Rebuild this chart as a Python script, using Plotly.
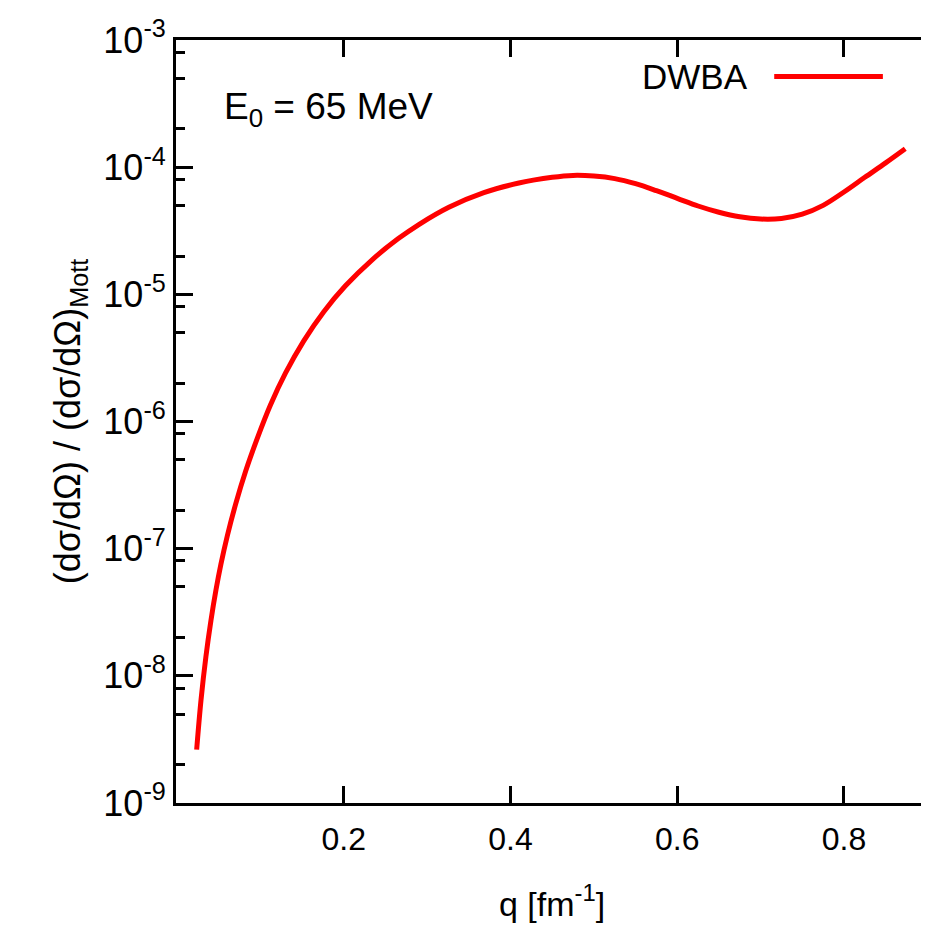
import plotly.graph_objects as go

# DWBA cross section ratio
q_vals = [0.0235, 0.0287, 0.0346, 0.0406, 0.0466, 0.0525, 0.0605, 0.0704, 0.0824,
          0.0963, 0.112, 0.130, 0.152, 0.176, 0.202, 0.234, 0.265, 0.290, 0.326,
          0.368, 0.410, 0.450, 0.475, 0.500, 0.525, 0.550, 0.575, 0.600, 0.625,
          0.650, 0.675, 0.700, 0.725, 0.750, 0.775, 0.800, 0.825, 0.850, 0.8735]
dwba_vals = [2.63e-9, 6.46e-9, 1.42e-8, 2.72e-8, 4.72e-8, 7.5e-8, 1.28e-7, 2.26e-7, 4.1e-7,
             7.41e-7, 1.35e-6, 2.4e-6, 4.31e-6, 7.31e-6, 1.167e-5, 1.87e-5, 2.73e-5, 3.54e-5, 4.84e-5,
             6.31e-5, 7.50e-5, 8.32e-5, 8.61e-5, 8.51e-5, 8.13e-5, 7.41e-5, 6.53e-5, 5.69e-5, 4.95e-5,
             4.42e-5, 4.07e-5, 3.91e-5, 3.95e-5, 4.27e-5, 5.01e-5, 6.38e-5, 8.32e-5, 1.081e-4, 1.396e-4]

x_ticks = [0.2, 0.4, 0.6, 0.8]
y_ticks = [1e-9, 1e-8, 1e-7, 1e-6, 1e-5, 1e-4, 1e-3]
y_tick_text = ["10<sup>-9</sup>", "10<sup>-8</sup>", "10<sup>-7</sup>", "10<sup>-6</sup>",
               "10<sup>-5</sup>", "10<sup>-4</sup>", "10<sup>-3</sup>"]
y_minor = [m * d for d in y_ticks[:-1] for m in (2, 5, 8)]

FONT = "Liberation Sans, Arial, sans-serif"

fig = go.Figure()
fig.add_trace(go.Scatter(x=q_vals, y=dwba_vals, mode="lines", name="DWBA",
                         line=dict(color="#ff0000", width=5, shape="spline", smoothing=1.0),
                         showlegend=False))

yax = dict(type="log", range=[-9, -3], tickvals=y_ticks, ticktext=y_tick_text,
           ticks="inside", ticklen=17, tickwidth=3, tickcolor="black",
           minor=dict(tickvals=y_minor, ticks="inside", ticklen=9, tickwidth=3, tickcolor="black"),
           showgrid=False, zeroline=False)

# page body has an 8px margin, so the figure is shifted by 8px; right frame line falls off-page
fig.update_layout(
    width=929, height=925,
    margin=dict(l=168, r=6, t=25, b=130),
    paper_bgcolor="white", plot_bgcolor="white",
    font=dict(family=FONT, color="black"),
    xaxis=dict(range=[-0.0013, 0.9008], tickvals=x_ticks, ticktext=["0.2", "0.4", "0.6", "0.8"],
               ticks="inside", ticklen=17, tickwidth=3, tickcolor="black",
               showline=True, linewidth=3, linecolor="black", mirror="ticks",
               showgrid=False, zeroline=False, tickfont=dict(size=32), ticklabelstandoff=6,
               title=dict(text="q [fm<sup>-1</sup>]", font=dict(size=34), standoff=36)),
    yaxis=dict(**yax, showline=True, linewidth=3, linecolor="black", mirror=True,
               tickfont=dict(size=36), ticklabeloverflow="allow",
               title=dict(text="(dσ/dΩ) / (dσ/dΩ)<sub>Mott</sub>", font=dict(size=36), standoff=12)),
    yaxis2=dict(**yax, overlaying="y", side="right", anchor="x", showline=False,
                showticklabels=False),
)

# legend: text with line sample to its right
fig.add_annotation(text="DWBA", xref="paper", yref="paper", x=0.763, y=0.952,
                   xanchor="right", yanchor="middle", showarrow=False, font=dict(size=35))
fig.add_shape(type="line", xref="paper", yref="paper", x0=0.7955, x1=0.94, y0=0.952, y1=0.952,
              line=dict(color="#ff0000", width=5))

fig.add_annotation(text="E<sub>0</sub> = 65 MeV", xref="paper", yref="paper", x=0.061, y=0.909,
                   xanchor="left", yanchor="middle", showarrow=False, font=dict(size=37))

fig.write_html("out.html")
